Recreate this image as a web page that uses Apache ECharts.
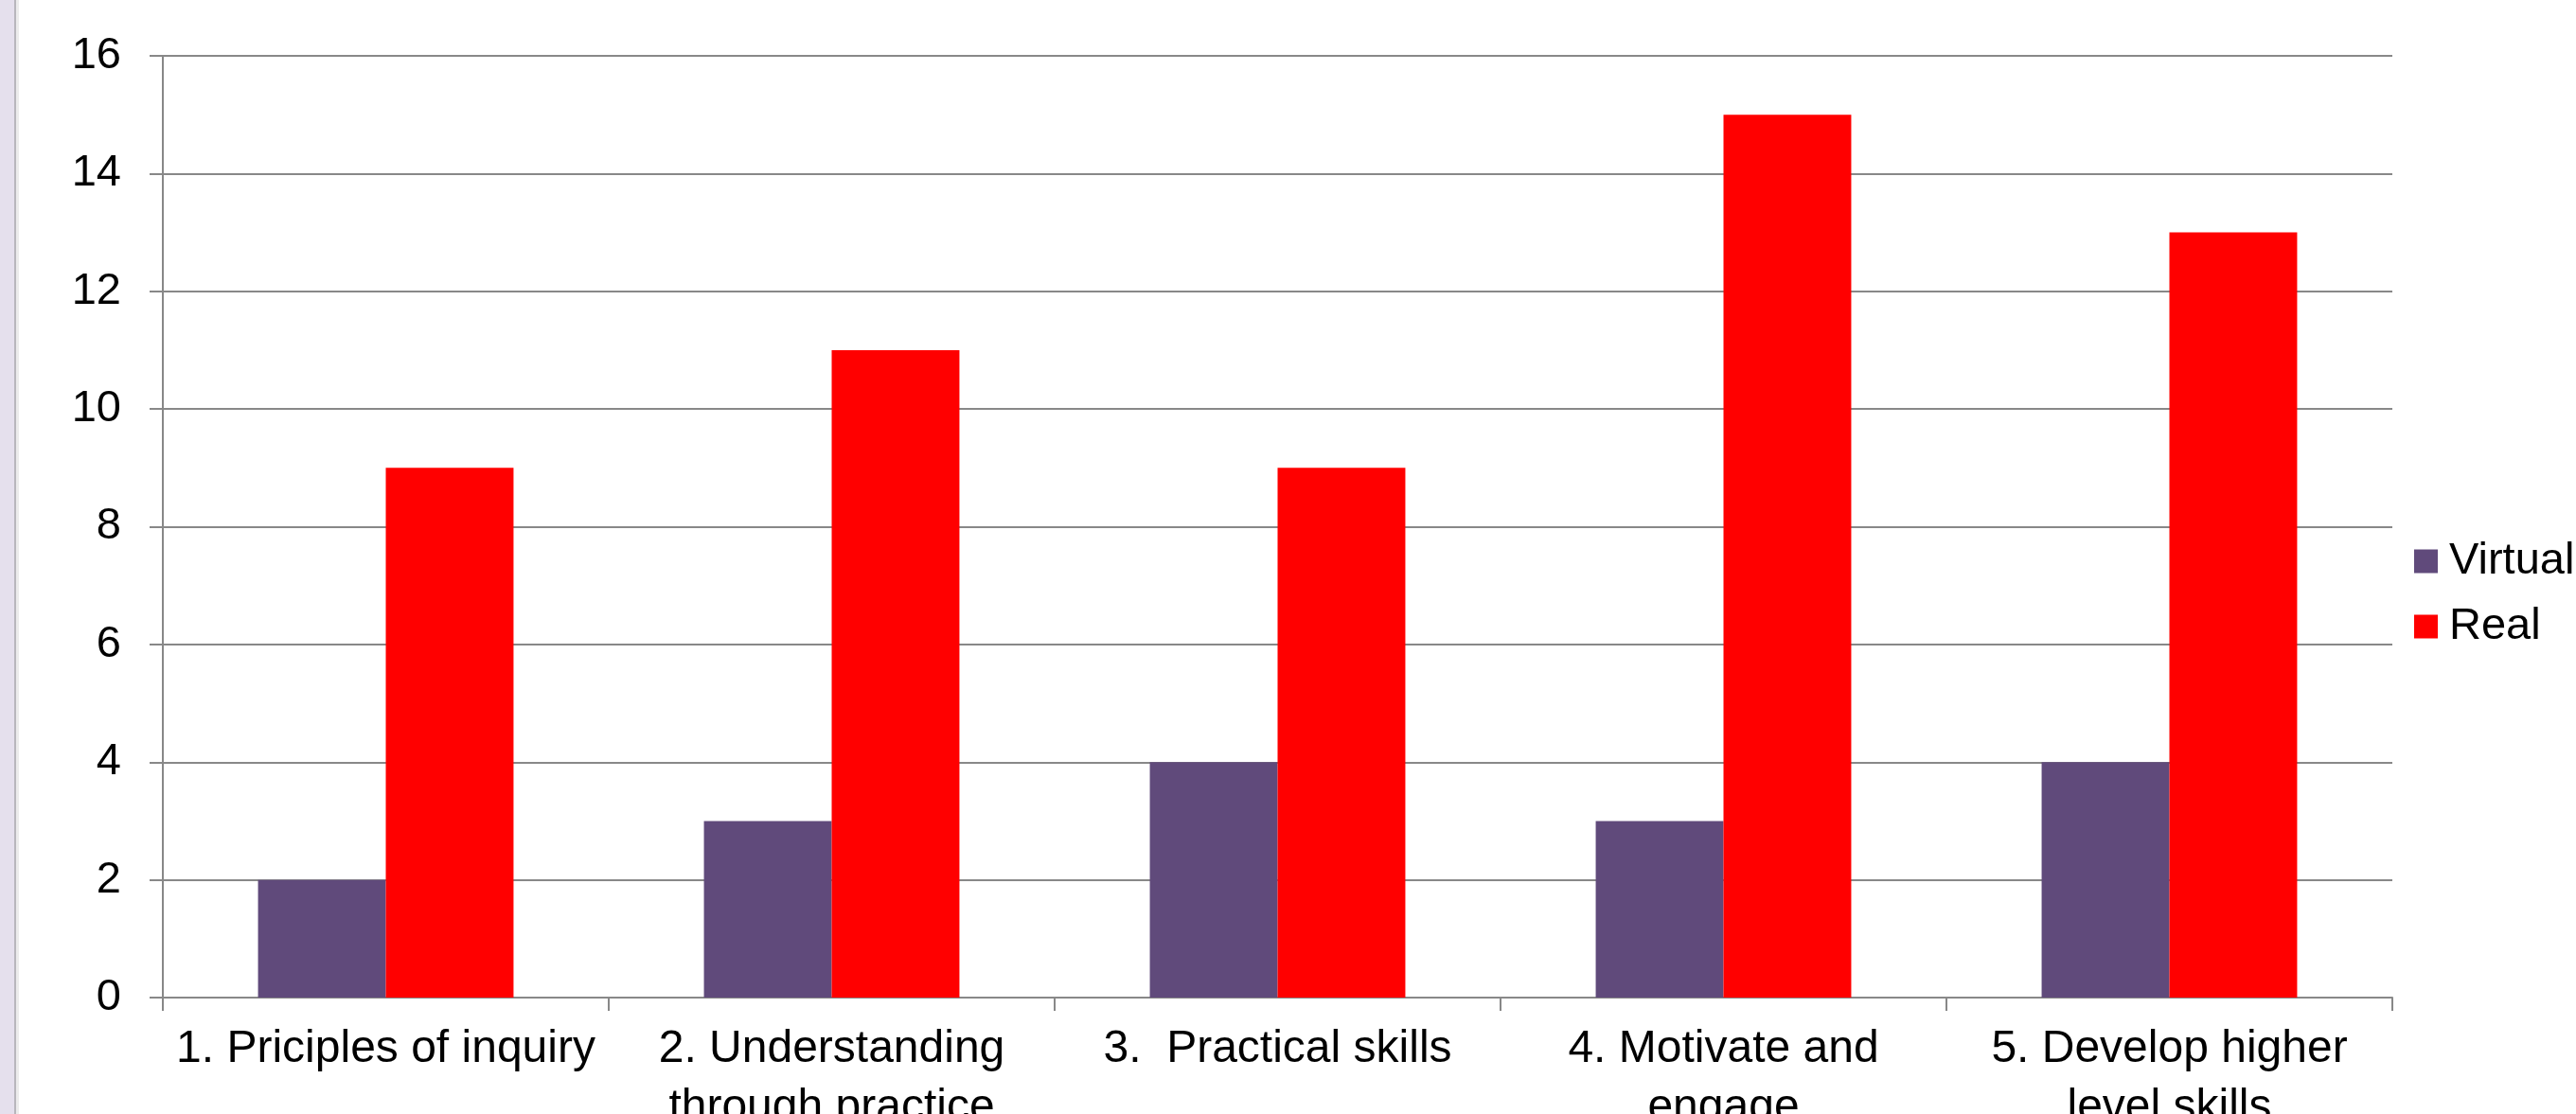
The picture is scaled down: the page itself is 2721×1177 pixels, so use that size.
<!DOCTYPE html>
<html>
<head>
<meta charset="utf-8">
<script src="https://cdn.jsdelivr.net/npm/echarts@6/dist/echarts.min.js"></script>
<style>
  html, body { margin: 0; padding: 0; background: #fff; }
  #chart { width: 2721px; height: 1177px; }
</style>
</head>
<body>
<div id="chart"></div>
<script>
// data
var categories = [
  "1. Priciples of inquiry",
  "2. Understanding\nthrough practice",
  "3.  Practical skills",
  "4. Motivate and\nengage",
  "5. Develop higher\nlevel skills"
];
var virtualValues = [2, 3, 4, 3, 4];
var realValues = [9, 11, 9, 15, 13];
var yTicks = { min: 0, max: 16, interval: 2 };

var FONT = "Liberation Sans, Arial, sans-serif";
var myChart = echarts.init(document.getElementById('chart'));

var option = {
  backgroundColor: '#ffffff',
  animation: false,
  textStyle: { fontFamily: FONT },
  grid: { left: 172, top: 59, right: 194, bottom: 123, containLabel: false, outerBoundsMode: 'none' },
  // lavender strip on the left edge of the slide
  graphic: [
    { type: 'rect', left: 0, top: 0, shape: { width: 15, height: 1177 }, style: { fill: '#e5e0ed' } },
    { type: 'rect', left: 15, top: 0, shape: { width: 2, height: 1177 }, style: { fill: '#b8b6bc' } },
    { type: 'rect', left: 17, top: 0, shape: { width: 3, height: 1177 }, style: { fill: '#ececec' } }
  ],
  legend: {
    orient: 'vertical',
    left: 2545,
    top: 563,
    itemWidth: 25,
    itemHeight: 25,
    itemGap: 19,
    icon: 'rect',
    textStyle: { fontFamily: FONT, fontSize: 47, color: '#000', lineHeight: 50, padding: [0, 0, 0, 7] },
    data: ['Virtual', 'Real']
  },
  xAxis: {
    type: 'category',
    data: categories,
    axisLine: { lineStyle: { color: '#888888', width: 2 } },
    axisTick: { show: true, length: 14, lineStyle: { color: '#888888', width: 2 } },
    axisLabel: {
      color: '#000',
      fontFamily: FONT,
      fontSize: 48,
      lineHeight: 62,
      margin: 24,
      interval: 0
    }
  },
  yAxis: {
    type: 'value',
    min: yTicks.min,
    max: yTicks.max,
    interval: yTicks.interval,
    axisLine: { show: true, lineStyle: { color: '#888888', width: 2 } },
    axisTick: { show: true, length: 14, lineStyle: { color: '#888888', width: 2 } },
    splitLine: { show: true, lineStyle: { color: '#888888', width: 2 } },
    axisLabel: { color: '#000', fontFamily: FONT, fontSize: 47, margin: 44 }
  },
  series: [
    {
      name: 'Virtual',
      type: 'bar',
      data: virtualValues,
      itemStyle: { color: '#604a7b' },
      barGap: '0%',
      barCategoryGap: '42.7%'
    },
    {
      name: 'Real',
      type: 'bar',
      data: realValues,
      itemStyle: { color: '#ff0000' },
      barGap: '0%',
      barCategoryGap: '42.7%'
    }
  ]
};

myChart.setOption(option);
</script>
</body>
</html>
